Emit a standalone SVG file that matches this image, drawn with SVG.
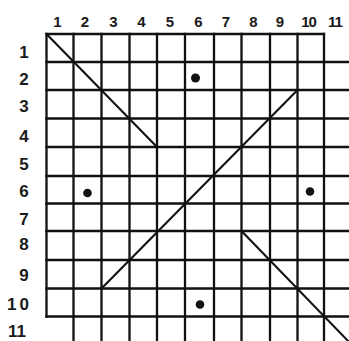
<svg xmlns="http://www.w3.org/2000/svg" width="349" height="341" viewBox="0 0 349 341">
<style>
.g{stroke:#111;stroke-width:2.3;fill:none;stroke-linecap:square}
.d{stroke:#111;stroke-width:2.1;fill:none}
.dot{fill:#111}
.lab{font-family:"Liberation Sans",Arial,sans-serif;font-weight:bold;fill:#1a1a1a;text-anchor:middle}
.top{font-size:15px}
.left{font-size:17px}
</style>
<rect width="349" height="341" fill="#fff"/>
<g id="top-labels" class="lab top">
<text x="57.5" y="26.5">1</text>
<text x="85" y="26.5">2</text>
<text x="113.5" y="26.5">3</text>
<text x="141.5" y="26.5">4</text>
<text x="170" y="26.5">5</text>
<text x="198.5" y="26.5">6</text>
<text x="226" y="26.5">7</text>
<text x="253.5" y="26.5">8</text>
<text x="280" y="26.5">9</text>
<text x="308.5" y="26.5" letter-spacing="-1">10</text>
<text x="335" y="26.5" letter-spacing="-1">11</text>
</g>
<g id="left-labels" class="lab left">
<text x="24" y="58">1</text>
<text x="24" y="84.5">2</text>
<text x="24" y="112">3</text>
<text x="24" y="142">4</text>
<text x="24" y="169.5">5</text>
<text x="24" y="197">6</text>
<text x="24" y="224.5">7</text>
<text x="24" y="249.5">8</text>
<text x="24" y="280.5">9</text>
<text x="19.5" y="309.5" letter-spacing="3">10</text>
<text x="17" y="336.5">11</text>
</g>
<g id="grid" class="g">
<path d="M46.5 34H324M46.5 62H349M46.5 90H349M46.5 118.5H349M46.5 147H349M46.5 176H349M46.5 203.5H349M46.5 231H349M46.5 260H349M46.5 288.5H349M46.5 316.5H349"/>
<path d="M46.5 34V316.5M73.5 34V341M101.5 34V341M129.5 34V341M157 34V341M185 34V341M214 34V341M241.5 34V341M270 34V341M297.5 34V341M324 34V341"/>
</g>
<g id="connectors" class="d">
<line x1="46.5" y1="34" x2="157" y2="147"/>
<line x1="297.5" y1="90" x2="101.5" y2="288.5"/>
<line x1="241.5" y1="231" x2="352" y2="345"/>
</g>
<g id="dots" class="dot">
<circle cx="195.5" cy="78" r="4.5"/>
<circle cx="87.5" cy="193" r="4.3"/>
<circle cx="310" cy="191.5" r="4.3"/>
<circle cx="200" cy="304.5" r="4.3"/>
</g>
</svg>
